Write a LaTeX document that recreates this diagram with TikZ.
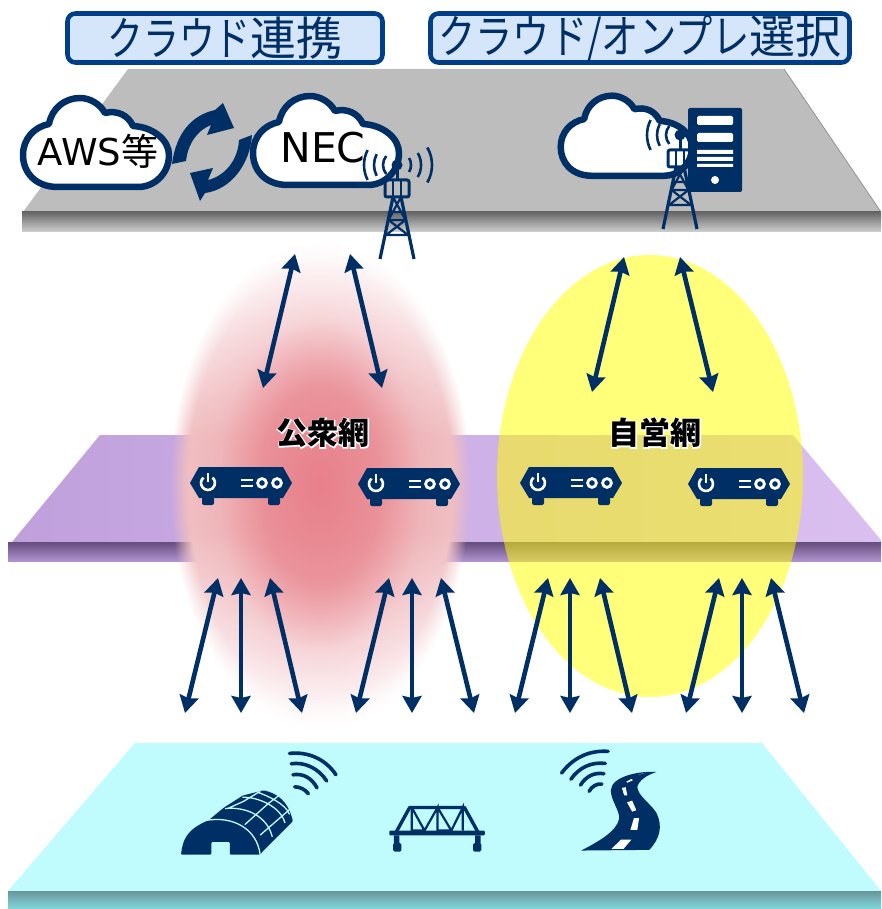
\documentclass[tikz,border=0pt]{standalone}
\usepackage{fontspec}
\setmainfont{DejaVu Sans}
\newfontfamily\cjk{Noto Sans CJK JP}
\usetikzlibrary{arrows.meta, fadings}
\definecolor{navy}{HTML}{002F66}
\definecolor{framblue}{HTML}{003F87}
\definecolor{softblue}{HTML}{D5E6FB}
\definecolor{softred}{HTML}{E8808A}
\definecolor{palered}{HTML}{F1C4C6}
\definecolor{paler}{HTML}{F9E6E8}
\definecolor{fieldcyan}{HTML}{C0FBFD}
\definecolor{ownyellow}{rgb}{1,1,0}
\newcommand{\narrowkana}[2][0.78]{\scalebox{#1}[1]{#2}}
\newcommand{\glowtext}[1]{\rlap{\textcolor{white}{\addfontfeature{FakeBold=7}#1}}#1}
\pgfdeclareradialshading{softredshade}{\pgfpointorigin}{color(0bp)=(pgftransparent!0); color(10bp)=(pgftransparent!25); color(17bp)=(pgftransparent!80); color(25bp)=(pgftransparent!100); color(50bp)=(pgftransparent!100)}
\pgfdeclarefading{softredfade}{\pgfuseshading{softredshade}}
\pgfdeclareradialshading{softedgeshade}{\pgfpointorigin}{color(0bp)=(pgftransparent!0); color(22bp)=(pgftransparent!0); color(25bp)=(pgftransparent!100); color(50bp)=(pgftransparent!100)}
\pgfdeclarefading{softedgefade}{\pgfuseshading{softedgeshade}}
\pgfdeclareverticalshading{softband}{100bp}{color(0bp)=(white); color(27bp)=(white); color(35bp)=(paler); color(45bp)=(palered); color(55bp)=(palered); color(65bp)=(paler); color(73bp)=(white); color(100bp)=(white)}
\tikzstyle{titlebox} = [
    rectangle, rounded corners=8pt, line width=4.6pt, inner sep=0pt,
    minimum height=49pt, text centered, draw=framblue, fill=softblue,
    text=navy, font=\cjk\fontsize{46}{46}\selectfont
]
\tikzstyle{cloudtext} = [inner sep=0pt, text=black]
\tikzstyle{nettext} = [inner sep=0pt, text=black, font=\cjk\bfseries\fontsize{31}{31}\selectfont]
\tikzstyle{linkarrow} = [line width=4.6pt, draw=navy, {Stealth[length=17pt,width=19pt,inset=2pt]}-{Stealth[length=17pt,width=19pt,inset=2pt]}]
\tikzstyle{wave} = [draw=navy, line width=3.6pt, line cap=round]
\tikzset{
    cloudicon/.pic={
        \draw[draw=navy, line width=6.5pt, fill=white, line join=round]
            (38,92) .. controls (15,92) and (3,77) .. (3,60)
            .. controls (3,44) and (14,32) .. (29,29)
            .. controls (32,13) and (45,3) .. (60,3)
            .. controls (70,3) and (80,9) .. (85,18)
            .. controls (97,15) and (108,20) .. (113,31)
            .. controls (133,32) and (149,45) .. (149,60)
            .. controls (149,78) and (135,92) .. (118,92) -- cycle;
    },
    towericon/.pic={
        \fill[navy] (0,0) circle (5.5pt);
        \draw[navy, line width=3pt] (0,0) -- (0,15);
        \draw[navy, line width=3pt, rounded corners=2pt] (-12,15) rectangle (12,32);
        \draw[navy, line width=2.4pt] (-4,15) -- (-4,32) (4,15) -- (4,32);
        \draw[navy, line width=3.2pt] (-4,32) -- (-17,94) (4,32) -- (17,94);
        \draw[navy, line width=2.2pt] (-7,47) -- (7,47) (-8.5,55) -- (8.5,55) (-11,70) -- (11,70)
            (-4,32) -- (8.5,55) (4,32) -- (-8.5,55) (-8.5,55) -- (11,70) (8.5,55) -- (-11,70);
        \draw[navy, line width=2.6pt] (220:14) arc (220:140:14) (208:23) arc (208:152:23) (207:33) arc (207:153:33);
        \draw[navy, line width=2.6pt] (-30:14) arc (-30:30:14) (-30:24) arc (-30:30:24) (-30:35) arc (-30:30:35);
    },
    routericon/.pic={
        \fill[navy] (0,0) -- (9,-16) -- (93,-16) -- (102,0) -- (93,15) -- (9,15) -- cycle;
        \fill[navy, rounded corners=2pt] (12,14) rectangle (24,22) (78,14) rectangle (90,22);
        \draw[white, line width=2.6pt] (13.5,-5.4) arc (130:410:7pt);
        \draw[white, line width=2.6pt] (18,-10) -- (18,-1);
        \draw[white, line width=2.4pt] (51,-3) -- (63,-3) (51,3) -- (63,3);
        \draw[white, line width=2.8pt] (72,0) circle (4.4pt) (87,0) circle (4.4pt);
    }
}
\begin{document}
\begin{tikzpicture}[x=1pt, y=-1pt]
\useasboundingbox (0,0) rectangle (881,909);

% Capa de nube
\fill[fill=white!74!black] (128,69) -- (784,69) -- (881,212) -- (23,212) -- cycle;
\shade[top color=black!60, bottom color=black!18] (22,212) rectangle (881,232);
\draw[black!45, line width=.7pt] (784,69) -- (881,212);

% Capa de red
\shade[left color={rgb,255:red,192;green,160;blue,220}, right color={rgb,255:red,218;green,192;blue,240}] (100,435) -- (793,435) -- (881,540) -- (881,542) -- (12,542) -- cycle;
\shade[top color={rgb,255:red,100;green,78;blue,125}, bottom color={rgb,255:red,176;green,146;blue,208}] (8,542) rectangle (881,561);

% Capa de campo
\fill[fill=fieldcyan] (135,743) -- (762,743) -- (881,891) -- (8,891) -- cycle;
\shade[top color={rgb,255:red,105;green,150;blue,155}, bottom color={rgb,255:red,128;green,216;blue,222}] (8,891) rectangle (881,909);

% Zonas de red
\shade[shading=softband, path fading=softedgefade, fit fading=true] (170,240) rectangle (470,730);
\fill[softred, path fading=softredfade, fit fading=true] (170,240) rectangle (470,730);
\fill[ownyellow, opacity=.52] (650,476) ellipse (153pt and 221pt);

% Titulos
\node (t1) [titlebox, minimum width=315pt] at (225,38) {\narrowkana{クラウド}連携};
\node (t2) [titlebox, minimum width=419pt] at (640,38) {\narrowkana[0.81]{クラウド/オンプレ}選択};

% Nubes
\pic (c1) at (20,95) {cloudicon};
\pic (c2) at (250,93) {cloudicon};
\pic[scale=.9] (c3) at (558,93) {cloudicon};
\node (aws) [cloudtext, font=\fontsize{37}{37}\selectfont] at (98,151) {AWS{\cjk 等}};
\node (nec) [cloudtext, font=\fontsize{41}{41}\selectfont] at (323,148) {NEC};

% Flechas de enlace de nubes
\fill[navy] (172,164) .. controls (176,133) and (192,115) .. (215,110) -- (223,103) -- (234,128) -- (207,135)
    -- (211,125) .. controls (198,130) and (188,143) .. (186,161) -- cycle;
\fill[navy] (252,135) .. controls (250,165) and (230,190) .. (205,193) -- (200,201) -- (190,173) -- (213,168)
    -- (208,180) .. controls (225,176) and (238,160) .. (239,140) -- cycle;

% Antenas y servidor
\pic (tw1) at (397,165) {towericon};
\pic (tw2) at (680,135) {towericon};
\fill[navy, rounded corners=1.5pt] (688,108) rectangle (742,192);
\fill[white, rounded corners=1.5pt] (697,116) rectangle (733,125) (697,133) rectangle (733,142);
\fill[white] (697,150) rectangle (733,154) (697,157) rectangle (733,161) (697,164) rectangle (733,167);
\fill[white] (715,180) circle (4pt);

% Enrutadores
\pic (r1) at (190,483) {routericon};
\pic (r2) at (358,484) {routericon};
\pic (r3) at (520,483) {routericon};
\pic (r4) at (688,484) {routericon};

% Invernadero
\begin{scope}[shift={(150,730)}, scale=.3444]
\fill[navy, rounded corners=1pt] (90,362) .. controls (95,320) and (105,290) .. (170,262) -- (215,225) -- (270,190) -- (330,175)
    .. controls (370,185) and (400,205) .. (415,265) -- (325,355) -- (320,362) -- (232,362) -- (232,325) -- (178,325) -- (178,362) -- cycle;
\draw[fieldcyan, line width=1.3pt] (165,262) .. controls (240,250) and (310,285) .. (320,362)
    (218,228) .. controls (280,222) and (340,250) .. (355,310)
    (268,195) .. controls (320,195) and (380,225) .. (392,270)
    (310,180) .. controls (340,190) and (395,215) .. (405,245)
    (275,275) -- (345,212) -- (375,190)
    (320,305) -- (412,225)
    (225,228) -- (270,208) -- (320,178);
\end{scope}

% Puente
\begin{scope}[shift={(150,730)}, scale=.3444]
\fill[navy, rounded corners=1pt] (695,292) rectangle (972,306);
\fill[navy] (708,306) rectangle (724,330) (944,306) rectangle (960,330);
\fill[navy, rounded corners=1.5pt] (706,328) rectangle (730,353) (938,328) rectangle (962,353);
\draw[navy, line width=3.4pt, line join=round] (715,296) -- (754,225) -- (913,225) -- (952,296);
\draw[navy, line width=2.2pt] (760,225) -- (760,292) -- (797,292) -- (760,225) (797,292) -- (835,225) -- (835,292) -- (875,292) -- (835,225) (875,292) -- (908,225) -- (908,292);
\end{scope}

% Carretera
\begin{scope}[shift={(150,730)}, scale=.3444]
\fill[navy] (1252,350) -- (1450,348) .. controls (1480,315) and (1490,280) .. (1470,240)
    .. controls (1455,215) and (1415,190) .. (1415,165) .. controls (1420,145) and (1445,130) .. (1470,122)
    .. controls (1420,118) and (1340,135) .. (1338,175) .. controls (1338,205) and (1365,235) .. (1362,258)
    .. controls (1355,295) and (1300,325) .. (1252,350) -- cycle;
\fill[white] (1340,345) -- (1375,345) -- (1398,318) -- (1368,318) -- cycle
    (1395,290) -- (1415,290) -- (1420,256) -- (1405,256) -- cycle
    (1385,210) -- (1400,205) -- (1412,233) -- (1400,237) -- cycle
    (1370,168) -- (1381,166) -- (1386,190) -- (1377,190) -- cycle
    (1383,150) -- (1398,142) -- (1402,146) -- (1386,153) -- cycle
    (1418,130) -- (1440,124) -- (1424,128) -- cycle;
\end{scope}

% Ondas
\begin{scope}[shift={(150,730)}, scale=.3444]
\draw[wave] (405,68) .. controls (460,62) and (510,85) .. (540,130);
\draw[wave] (410,98) .. controls (450,92) and (490,112) .. (513,148);
\draw[wave] (415,130) .. controls (445,125) and (470,140) .. (485,168);
\draw[wave] (420,165) .. controls (435,165) and (450,172) .. (460,185);
\draw[wave] (1330,62) .. controls (1270,58) and (1225,85) .. (1195,125);
\draw[wave] (1322,97) .. controls (1280,92) and (1245,110) .. (1222,143);
\draw[wave] (1318,127) .. controls (1290,122) and (1265,135) .. (1250,160);
\draw[wave] (1312,157) .. controls (1298,155) and (1283,163) .. (1275,178);
\end{scope}

% Extremos de flechas
\coordinate (a1) at (295,254);  \coordinate (b1) at (263,388);
\coordinate (a2) at (350,254);  \coordinate (b2) at (382,388);
\coordinate (a3) at (624,257);  \coordinate (b3) at (592,392);
\coordinate (a4) at (680,257);  \coordinate (b4) at (713,392);
\coordinate (d1) at (218,578);  \coordinate (e1) at (185,713);
\coordinate (d2) at (241,578);  \coordinate (e2) at (241,713);
\coordinate (d3) at (270,578);  \coordinate (e3) at (302,713);
\coordinate (d4) at (389,578);  \coordinate (e4) at (356,713);
\coordinate (d5) at (412,578);  \coordinate (e5) at (412,713);
\coordinate (d6) at (441,578);  \coordinate (e6) at (474,713);
\coordinate (d7) at (548,578);  \coordinate (e7) at (515,713);
\coordinate (d8) at (570,578);  \coordinate (e8) at (570,713);
\coordinate (d9) at (600,578);  \coordinate (e9) at (632,713);
\coordinate (d10) at (719,578); \coordinate (e10) at (686,713);
\coordinate (d11) at (742,578); \coordinate (e11) at (742,713);
\coordinate (d12) at (771,578); \coordinate (e12) at (804,713);

% Flechas
\draw [linkarrow] (a1) -- (b1);
\draw [linkarrow] (a2) -- (b2);
\draw [linkarrow] (a3) -- (b3);
\draw [linkarrow] (a4) -- (b4);
\draw [linkarrow] (d1) -- (e1);
\draw [linkarrow] (d2) -- (e2);
\draw [linkarrow] (d3) -- (e3);
\draw [linkarrow] (d4) -- (e4);
\draw [linkarrow] (d5) -- (e5);
\draw [linkarrow] (d6) -- (e6);
\draw [linkarrow] (d7) -- (e7);
\draw [linkarrow] (d8) -- (e8);
\draw [linkarrow] (d9) -- (e9);
\draw [linkarrow] (d10) -- (e10);
\draw [linkarrow] (d11) -- (e11);
\draw [linkarrow] (d12) -- (e12);

% Redes
\node (pub) [nettext] at (323,433) {\glowtext{公衆網}};
\node (own) [nettext] at (655,433) {\glowtext{自営網}};

\end{tikzpicture}
\end{document}
